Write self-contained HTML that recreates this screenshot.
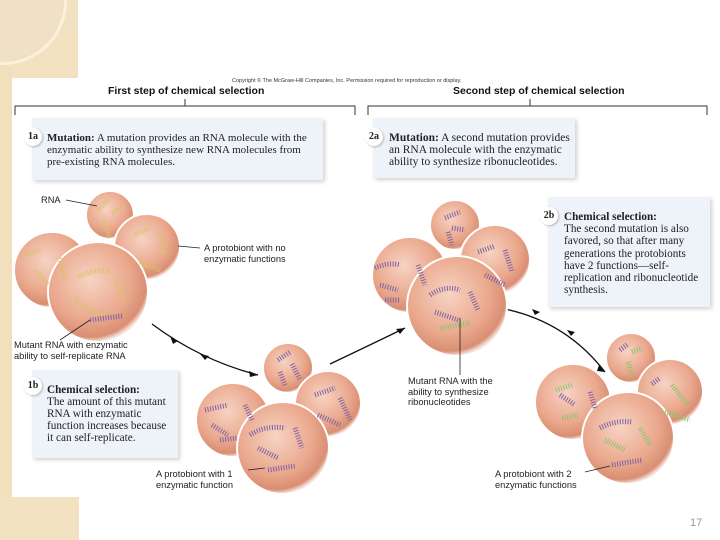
<!DOCTYPE html>
<html><head><meta charset="utf-8"><style>
html,body{margin:0;padding:0;background:#fff;}
body{width:720px;height:540px;position:relative;overflow:hidden;font-family:"Liberation Sans",sans-serif;}
.box{position:absolute;background:#eef2f9;box-shadow:2px 2px 4px rgba(0,0,0,0.18);font-family:"Liberation Serif",serif;font-size:11px;line-height:12px;color:#222;white-space:nowrap;}
.box b{font-weight:bold;}
.badge{position:absolute;width:18px;height:18px;border-radius:50%;background:#fff;box-shadow:1px 1px 2px rgba(0,0,0,.25);font-family:"Liberation Serif",serif;font-weight:bold;font-size:10px;line-height:18px;text-align:center;color:#222;}
.lbl{position:absolute;font-size:9.3px;line-height:10.5px;color:#222;}
.t{position:absolute;font-weight:bold;font-size:10.5px;color:#111;}
</style></head><body>
<div style="position:absolute;left:0;top:0;width:78px;height:78px;background:#f2e2c2"></div>
<div style="position:absolute;left:0;top:0;width:12px;height:500px;background:#f1dfbd"></div>
<div style="position:absolute;left:0;top:497px;width:79px;height:43px;background:#f2e2c2"></div>
<div style="position:absolute;left:0;top:0;width:64px;height:62px;border-bottom-right-radius:64px;border-right:3px solid #faf1dc;border-bottom:3px solid #faf1dc;background:#f0e0c6"></div>

<div style="position:absolute;left:232px;top:78px;font-size:5.5px;color:#333">Copyright © The McGraw-Hill Companies, Inc. Permission required for reproduction or display.</div>
<div class="t" style="left:108px;top:85px">First step of chemical selection</div>
<div class="t" style="left:453px;top:85px">Second step of chemical selection</div>

<svg width="720" height="540" style="position:absolute;left:0;top:0">
<defs>
<radialGradient id="g" cx="0.42" cy="0.38" r="0.62">
<stop offset="0" stop-color="#f7d3c3"/><stop offset="0.65" stop-color="#eaa88d"/><stop offset="0.92" stop-color="#d98e72"/><stop offset="1" stop-color="#f6e6df"/>
</radialGradient>
</defs>
<g stroke="#333" stroke-width="1" fill="none">
<path d="M15 115 V106 H355 V115 M185 106 V99"/>
<path d="M368 115 V106 H707 V115 M530 106 V99"/>
</g>
<g stroke="#111" stroke-width="1.3" fill="none">
<path d="M152 324 Q200 360 258 375"/>
<path d="M330 364 Q370 345 405 328"/>
<path d="M500 308 Q565 320 605 372"/>
</g>
<g fill="#111">
<path d="M173 344 l-3 -8 l8 5z"/><path d="M205 360 l-5 -6 l9 2z"/><path d="M258 375 l-9 -4 l1 6z"/>
<path d="M405 328 l-9 1 l4 5z"/>
<path d="M540 312 l-8 -3 l3 6z"/><path d="M575 332 l-8 -2 l4 6z"/><path d="M605 372 l-6 -7 l-2 6z"/>
</g>
<g stroke="#fff" stroke-width="2" fill="url(#g)">
<circle cx="110" cy="215" r="24"/><circle cx="147" cy="247" r="33"/><circle cx="52" cy="270" r="38"/><circle cx="98" cy="292" r="50"/>
<circle cx="288" cy="368" r="25"/><circle cx="328" cy="404" r="33"/><circle cx="233" cy="420" r="37"/><circle cx="283" cy="448" r="46"/>
<circle cx="455" cy="225" r="25"/><circle cx="495" cy="260" r="35"/><circle cx="410" cy="275" r="38"/><circle cx="457" cy="306" r="50"/>
<circle cx="631" cy="358" r="25"/><circle cx="670" cy="392" r="33"/><circle cx="573" cy="402" r="38"/><circle cx="628" cy="438" r="46"/>
</g>
<g fill="none" stroke-width="5" stroke-dasharray="1 1.6" stroke="#d8c36a">
<path d="M98 210 L108 200 M112 213 L125 205 M104 220 L110 238"/>
<path d="M135 235 L150 228 M160 232 L165 255 M140 262 L160 270"/>
<path d="M25 255 L40 250 M35 270 L48 285 M60 258 L65 280"/>
<path d="M78 277 Q95 268 110 272 M75 298 Q85 310 105 314 M115 280 L125 300"/>
</g>
<g fill="none" stroke-width="5" stroke-dasharray="1 1.6" stroke="#7d62a8">
<path d="M90 320 L122 316"/>
<path d="M278 360 L290 352 M292 364 L300 380 M280 372 L285 385"/>
<path d="M315 395 L335 388 M340 398 L350 420 M318 415 L340 425"/>
<path d="M205 410 L228 405 M212 425 L228 435 M245 405 L252 420 M220 440 L238 438"/>
<path d="M250 435 Q265 425 285 428 M258 448 L278 458 M295 428 L302 448 M268 470 L295 466"/>
<path d="M445 218 L460 212 M452 228 L465 230 M448 232 L452 245"/>
<path d="M478 252 L495 246 M505 250 L512 272 M485 275 L505 285"/>
<path d="M375 268 Q388 262 400 265 M380 285 L398 290 M418 265 L425 285 M385 300 L400 300"/>
<path d="M430 295 Q445 285 460 290 M435 312 L458 320 M470 292 L478 310"/>
<path d="M620 350 L628 344 M652 384 L660 378 M560 395 L575 405 M590 392 L595 408 M600 428 Q615 420 632 422 M612 465 L642 460"/>
</g>
<g fill="none" stroke-width="5" stroke-dasharray="1 1.6" stroke="#8ac66a">
<path d="M440 328 L470 323"/>
<path d="M632 352 L642 348 M628 362 L632 375 M672 385 L688 405 M665 412 L690 420 M556 390 L572 385 M562 418 L578 415 M605 440 L625 450 M640 428 L650 445"/>
</g>
<g stroke="#222" stroke-width="0.8" fill="none">
<path d="M66 200 L97 206 M178 246 L200 248 M60 340 L90 320 M248 470 L265 468 M460 318 V375 M585 472 L610 466"/>
</g>
</svg>

<div class="box" style="left:32px;top:118px;width:291px;height:62px">
<div class="badge" style="left:-8px;top:10px">1a</div>
<div style="position:absolute;left:15px;top:14px"><b>Mutation:</b> A mutation provides an RNA molecule with the<br>enzymatic ability to synthesize new RNA molecules from<br>pre-existing RNA molecules.</div></div>
<div class="box" style="left:373px;top:118px;width:202px;height:60px">
<div class="badge" style="left:-8px;top:10px">2a</div>
<div style="position:absolute;left:16px;top:14px;font-size:11.5px"><b>Mutation:</b> A second mutation provides<br>an RNA molecule with the enzymatic<br>ability to synthesize ribonucleotides.</div></div>
<div class="box" style="left:548px;top:197px;width:162px;height:110px">
<div class="badge" style="left:-8px;top:10px">2b</div>
<div style="position:absolute;left:16px;top:14px;font-size:11.2px;line-height:12.2px"><b>Chemical selection:</b><br>The second mutation is also<br>favored, so that after many<br>generations the protobionts<br>have 2 functions—self-<br>replication and ribonucleotide<br>synthesis.</div></div>
<div class="box" style="left:32px;top:370px;width:146px;height:88px">
<div class="badge" style="left:-8px;top:7px">1b</div>
<div style="position:absolute;left:15px;top:14px;font-size:11.2px;line-height:12px"><b>Chemical selection:</b><br>The amount of this mutant<br>RNA with enzymatic<br>function increases because<br>it can self-replicate.</div></div>

<div class="lbl" style="left:41px;top:195px">RNA</div>
<div class="lbl" style="left:204px;top:243px">A protobiont with no<br>enzymatic functions</div>
<div class="lbl" style="left:14px;top:340px">Mutant RNA with enzymatic<br>ability to self-replicate RNA</div>
<div class="lbl" style="left:156px;top:469px">A protobiont with 1<br>enzymatic function</div>
<div class="lbl" style="left:408px;top:376px">Mutant RNA with the<br>ability to synthesize<br>ribonucleotides</div>
<div class="lbl" style="left:495px;top:469px">A protobiont with 2<br>enzymatic functions</div>
<div style="position:absolute;left:690px;top:517px;font-size:11px;color:#999">17</div>
</body></html>
